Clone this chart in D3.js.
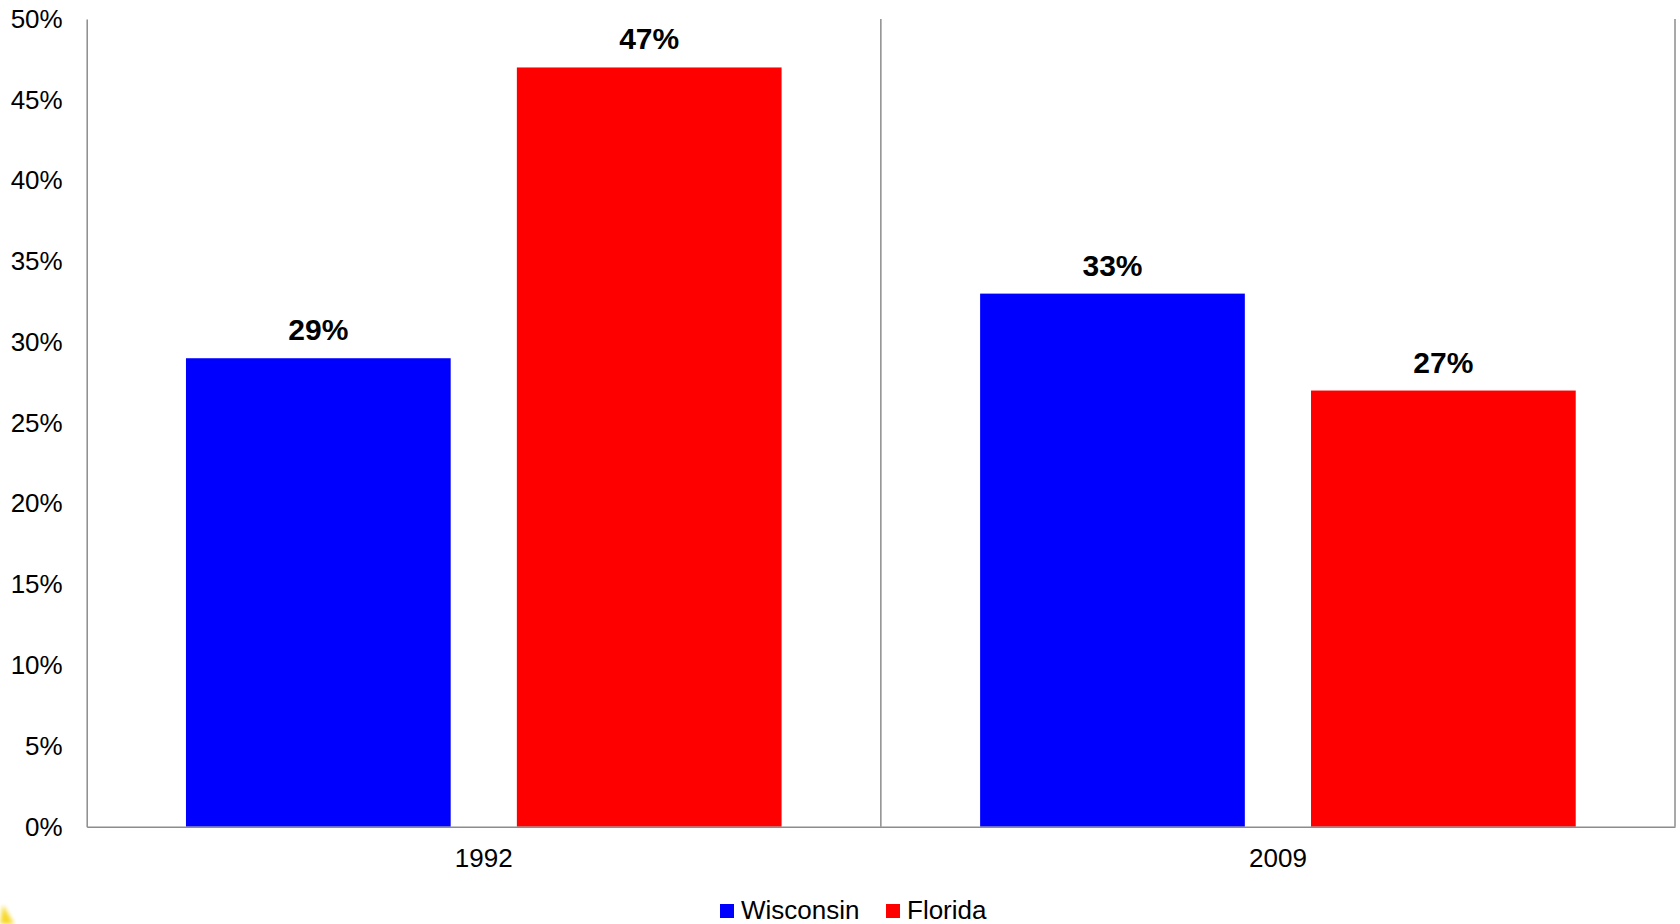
<!DOCTYPE html>
<html><head><meta charset="utf-8">
<script src="https://cdn.jsdelivr.net/npm/d3@7/dist/d3.min.js"></script>
<style>html,body{margin:0;padding:0;background:#fff;}svg{display:block;font-family:"Liberation Sans",Arial,sans-serif;}</style>
</head><body><svg id="c" width="1680" height="924"></svg>
<script>
const categories = ["1992", "2009"];
const seriesNames = ["Wisconsin", "Florida"];
const wisconsin = [29, 33];
const florida = [47, 27];
const seriesColors = ["#0000ff", "#ff0000"];
const yTicks = [0, 5, 10, 15, 20, 25, 30, 35, 40, 45, 50];

const svg = d3.select("#c");
const m = {l: 86.7, r: 1675, t: 19, b: 826.7};
const x = d3.scaleBand().domain(categories).range([m.l, m.r]).paddingInner(0).paddingOuter(0);
const x1 = d3.scaleBand().domain(seriesNames).range([0, x.bandwidth()]).paddingInner(0.2).paddingOuter(0.3);
const y = d3.scaleLinear().domain([0, 50]).range([m.b, m.t]);
const data = categories.map((c, i) => ({cat: c, vals: [wisconsin[i], florida[i]]}));

// vertical category separators
const sep = categories.map(c => x(c) + x.bandwidth());
svg.append("g").selectAll("line").data(sep).join("line")
  .attr("x1", d => d).attr("x2", d => d).attr("y1", m.t).attr("y2", m.b)
  .attr("stroke", "#8c8c8c").attr("stroke-width", 1.5);

// bars
const g = svg.append("g").selectAll("g").data(data).join("g")
  .attr("transform", d => `translate(${x(d.cat)},0)`);
g.selectAll("rect").data(d => d.vals.map((v, i) => ({v, s: seriesNames[i], i}))).join("rect")
  .attr("x", d => x1(d.s)).attr("width", x1.bandwidth())
  .attr("y", d => y(d.v)).attr("height", d => y(0) - y(d.v))
  .attr("fill", d => seriesColors[d.i]);
g.selectAll("text").data(d => d.vals.map((v, i) => ({v, s: seriesNames[i], i}))).join("text")
  .attr("x", d => x1(d.s) + x1.bandwidth() / 2).attr("y", d => y(d.v) - 18)
  .attr("text-anchor", "middle").attr("font-size", 30).attr("font-weight", "bold").attr("fill", "#000")
  .text(d => d.v + "%");

// y axis
const ya = svg.append("g").attr("transform", `translate(${m.l},0)`)
  .call(d3.axisLeft(y).tickValues(yTicks).tickSize(0).tickPadding(24).tickFormat(d => d + "%"));
ya.select(".domain").attr("stroke", "#8c8c8c").attr("stroke-width", 1.5);
ya.selectAll("text").attr("font-size", 26).attr("fill", "#000").attr("font-family", "Liberation Sans, Arial, sans-serif");

// x axis
const xa = svg.append("g").attr("transform", `translate(0,${m.b})`)
  .call(d3.axisBottom(x).tickSize(0).tickPadding(22));
xa.select(".domain").attr("stroke", "#8c8c8c").attr("stroke-width", 1.5);
xa.selectAll("text").attr("font-size", 26).attr("fill", "#000").attr("font-family", "Liberation Sans, Arial, sans-serif");

// legend
const leg = svg.append("g");
const legX = [720, 886];
seriesNames.forEach((s, i) => {
  leg.append("rect").attr("x", legX[i]).attr("y", 904).attr("width", 14).attr("height", 14).attr("fill", seriesColors[i]);
  leg.append("text").attr("x", legX[i] + 21).attr("y", 919).attr("font-size", 26).attr("fill", "#000").text(s);
});

// small decorative yellow corner mark
const defs = svg.append("defs");
defs.append("filter").attr("id", "bl").append("feGaussianBlur").attr("stdDeviation", 2);
svg.append("path").attr("d", "M0,924 L3,905 L14,924 Z").attr("fill", "#f5d000").attr("filter", "url(#bl)").attr("opacity", 0.85);
</script></body></html>
